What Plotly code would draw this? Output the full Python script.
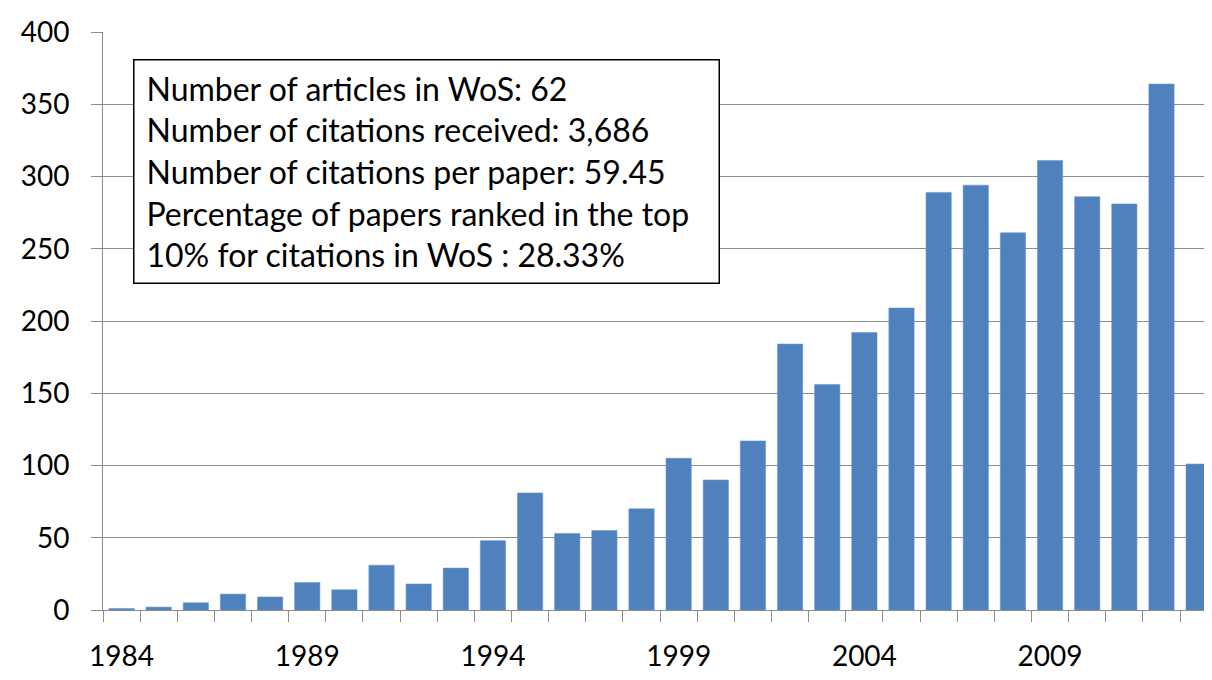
import plotly.graph_objects as go

years = list(range(1984, 2014))
citations = [1, 2, 5, 11, 9, 19, 14, 31, 18, 29,
             48, 81, 53, 55, 70, 105, 90, 117, 184, 156,
             192, 209, 289, 294, 261, 311, 286, 281, 364, 101]
x_tick_vals = [1984, 1989, 1994, 1999, 2004, 2009]
x_tick_text = ["1984", "1989", "1994", "1999", "2004", "2009"]
y_tick_vals = [0, 50, 100, 150, 200, 250, 300, 350, 400]
box_lines = [
    "Number of articles in WoS: 62",
    "Number of citations received: 3,686",
    "Number of citations per paper: 59.45",
    "Percentage of papers ranked in the top",
    "10% for citations in WoS : 28.33%",
]

FONT = "Lato"
GRID = "#8c8c8c"

fig = go.Figure()
fig.add_trace(go.Bar(
    x=years, y=citations, width=0.68,
    marker=dict(color="#4f81bd", line=dict(color="#6a96cc", width=0.6)),
    showlegend=False, hoverinfo="x+y",
))

# page body has an 8px margin: compensate so the plot lands where the reference is
fig.update_layout(
    width=1204, height=672,
    margin=dict(l=95, r=0, t=24, b=70),
    paper_bgcolor="white", plot_bgcolor="white",
    font=dict(family=FONT, color="black"),
    bargap=0.32,
    xaxis=dict(
        range=[1983.5, 2013.36],
        tickmode="array", tickvals=x_tick_vals, ticktext=x_tick_text,
        ticks="", showgrid=False, zeroline=False,
        showline=True, linecolor=GRID, linewidth=1,
        tickfont=dict(size=28, family=FONT, color="black"),
        ticklabelstandoff=21,
        minor=dict(tickvals=[y - 0.5 for y in years], ticks="outside",
                   ticklen=11, tickcolor=GRID, tickwidth=1, showgrid=False),
    ),
    yaxis=dict(
        range=[0, 400],
        tickmode="array", tickvals=y_tick_vals,
        ticks="outside", ticklen=11, tickcolor=GRID, tickwidth=1,
        showgrid=True, gridcolor=GRID, gridwidth=1,
        zeroline=False, showline=True, linecolor=GRID, linewidth=1,
        tickfont=dict(size=28, family=FONT, color="black"),
        ticklabelstandoff=16,
    ),
)

# faint chart-area border at the far left
fig.add_shape(type="line", xref="paper", yref="paper",
              x0=(6 - 103) / 1109, x1=(6 - 103) / 1109, y0=-0.12, y1=1.06,
              line=dict(color="#ececec", width=1))

fig.add_annotation(
    xref="paper", yref="paper", x=(133 - 103) / 1109, y=(610 - 59) / 578,
    xanchor="left", yanchor="top",
    text="<br>".join(box_lines), align="left", valign="middle",
    showarrow=False,
    font=dict(size=32, family=FONT, color="black"),
    bgcolor="white", bordercolor="black", borderwidth=1.5, borderpad=12,
    width=560, height=198,
)

fig.write_html("out.html")
